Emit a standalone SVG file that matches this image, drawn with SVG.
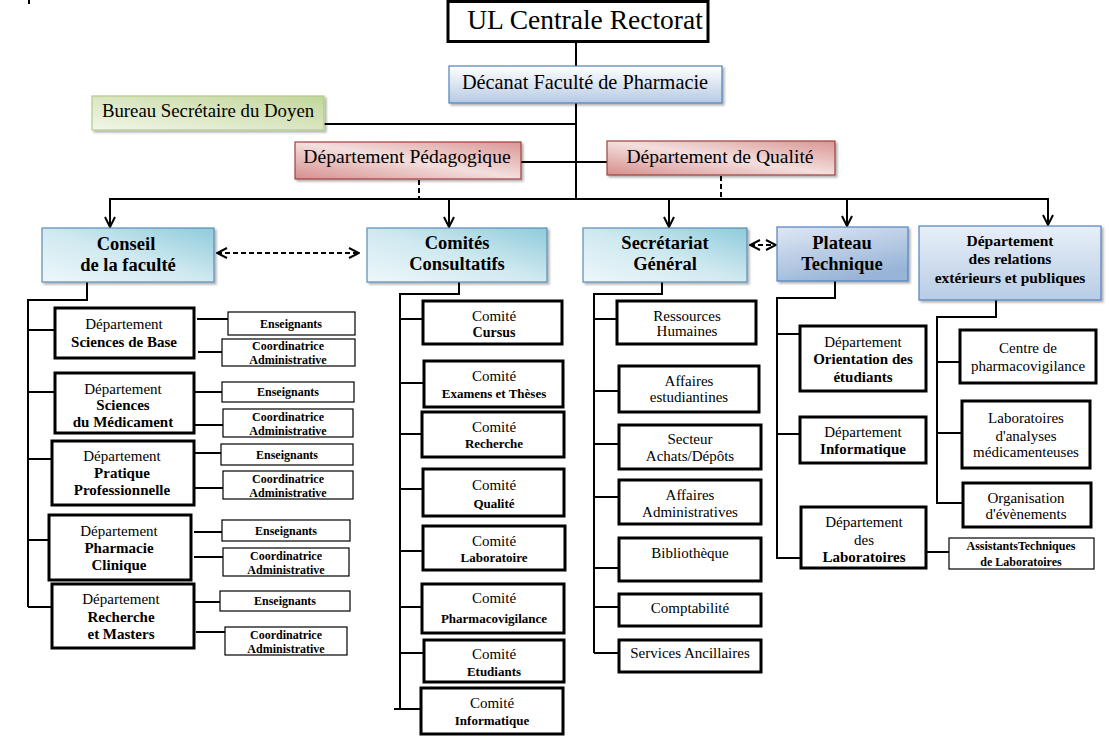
<svg xmlns="http://www.w3.org/2000/svg" width="1109" height="737" viewBox="0 0 1109 737">
<style>
.t{font-family:"Liberation Serif","Times New Roman",serif;fill:#000;text-anchor:middle}
.b{font-weight:bold}
.f15{font-size:15px}
.f13{font-size:13px}
.f12{font-size:12px}
.f18{font-size:18.5px}
.box{fill:#fff;stroke:#000;stroke-width:3}
.sbox{fill:#fff;stroke:#000;stroke-width:1.2}
.ln{stroke:#000;stroke-width:2;fill:none}
.dash{stroke-dasharray:5 3}
.hd{filter:url(#sh)}
</style>
<defs>
<filter id="sh" x="-10%" y="-10%" width="130%" height="140%"><feDropShadow dx="2" dy="2" stdDeviation="1.2" flood-color="#000" flood-opacity="0.3"/></filter>
<linearGradient id="gCyan" x1="0" y1="1" x2="1" y2="0"><stop offset="0" stop-color="#eef7fa"/><stop offset="0.5" stop-color="#cfe9f0"/><stop offset="1" stop-color="#8fcbdb"/></linearGradient>
<linearGradient id="gBlue" x1="0" y1="0" x2="0.5" y2="1"><stop offset="0" stop-color="#dfe8f3"/><stop offset="1" stop-color="#98b4d8"/></linearGradient>
<linearGradient id="gBlueL" x1="0" y1="0" x2="0" y2="1"><stop offset="0" stop-color="#e8eff8"/><stop offset="1" stop-color="#b8cce5"/></linearGradient>
<linearGradient id="gDec" x1="0" y1="0" x2="0" y2="1"><stop offset="0" stop-color="#ffffff"/><stop offset="1" stop-color="#b6cae3"/></linearGradient>
<linearGradient id="gGreen" x1="0" y1="1" x2="1" y2="0"><stop offset="0" stop-color="#f1f6e8"/><stop offset="1" stop-color="#c2d69a"/></linearGradient>
<linearGradient id="gRed" x1="0" y1="1" x2="1" y2="0"><stop offset="0" stop-color="#d58e8c"/><stop offset="0.5" stop-color="#f3dfde"/><stop offset="1" stop-color="#d99694"/></linearGradient>
<marker id="ah" viewBox="0 0 12 12" refX="11" refY="6" markerWidth="12" markerHeight="12" markerUnits="userSpaceOnUse" orient="auto-start-reverse"><path d="M1,1 L11,6 L1,11" fill="none" stroke="#000" stroke-width="2"/></marker>
</defs>
<rect width="1109" height="737" fill="#fff"/>

<g id="connectors">
<line class="ln" x1="29" y1="0" x2="29" y2="4"/>
<line class="ln" x1="576" y1="42" x2="576" y2="66"/>
<line class="ln" x1="576" y1="103" x2="576" y2="199"/>
<line class="ln" x1="324" y1="124" x2="576" y2="124"/>
<line class="ln" x1="521" y1="162" x2="576" y2="162"/>
<line class="ln" x1="576" y1="162" x2="607" y2="162"/>
<line class="ln dash" x1="419" y1="180" x2="419" y2="199"/>
<line class="ln dash" x1="721" y1="176" x2="721" y2="199"/>
<line class="ln" x1="109" y1="199" x2="1049" y2="199"/>
<line class="ln" x1="110" y1="199" x2="110" y2="227" marker-end="url(#ah)"/>
<line class="ln" x1="449" y1="199" x2="449" y2="227" marker-end="url(#ah)"/>
<line class="ln" x1="669" y1="199" x2="669" y2="227" marker-end="url(#ah)"/>
<line class="ln" x1="847" y1="199" x2="847" y2="226" marker-end="url(#ah)"/>
<line class="ln" x1="1048" y1="199" x2="1048" y2="225" marker-end="url(#ah)"/>
<line class="ln dash" x1="217" y1="253" x2="359" y2="253" marker-start="url(#ah)" marker-end="url(#ah)"/>
<line class="ln dash" x1="750" y1="245" x2="776" y2="245" marker-start="url(#ah)" marker-end="url(#ah)"/>
<path class="ln" d="M87,282 V300 H28 V607"/>
<path class="ln" d="M28,330 H55 M28,392 H55 M28,459 H52 M28,540 H49 M28,607 H52"/>
<path class="ln" d="M197,319 H228 M198,352 H222 M191,392 H222 M191,425 H223 M191,453 H221 M194,488 H223 M194,532 H222 M194,557 H223 M194,602 H220 M196,632 H225"/>
<path class="ln" d="M459,282 V294 H400 V709"/>
<path class="ln" d="M400,319 H423 M400,383 H424 M400,434 H422 M400,489 H423 M400,551 H423 M400,607 H422 M400,653 H424 M394,709 H421"/>
<path class="ln" d="M662,282 V294 H594 V653"/>
<path class="ln" d="M594,319 H617 M594,391 H619 M594,444 H619 M594,497 H619 M594,568 H619 M594,607 H619 M594,653 H619"/>
<path class="ln" d="M835,281 V298 H777 V558 H801"/>
<path class="ln" d="M777,334 H800 M777,434 H800 M926,552 H949"/>
<path class="ln" d="M996,300 V317 H937 V503 H963"/>
<path class="ln" d="M937,362 H960 M937,433 H962"/>
</g>

<g id="rectorat"><rect x="448" y="1.5" width="260" height="40" fill="#fff" stroke="#000" stroke-width="3"/><text class="t" x="585" y="29" font-size="27.5">UL Centrale Rectorat</text></g>
<g id="decanat"><rect class="hd" x="449" y="66" width="273" height="37" fill="url(#gDec)" stroke="#4f81bd" stroke-width="1.2"/><text class="t" x="585" y="89" font-size="20.3">Décanat Faculté de Pharmacie</text></g>
<g id="bureau"><rect class="hd" x="92" y="96" width="232" height="34" fill="url(#gGreen)" stroke="#b3cb8a" stroke-width="1.2"/><text class="t" x="208" y="116.5" font-size="18.8">Bureau Secrétaire du Doyen</text></g>
<g id="pedagogique"><rect class="hd" x="295" y="142" width="226" height="37" fill="url(#gRed)" stroke="#a0403e" stroke-width="1.2"/><text class="t" x="407" y="163" font-size="19.6">Département Pédagogique</text></g>
<g id="qualite"><rect class="hd" x="607" y="141" width="228" height="34" fill="url(#gRed)" stroke="#a0403e" stroke-width="1.2"/><text class="t" x="720" y="162.5" font-size="19.6">Département de Qualité</text></g>

<g id="conseil"><rect class="hd" x="42" y="228" width="172" height="54" fill="url(#gCyan)" stroke="#5a8cb5" stroke-width="1.2"/><text class="t b f18"><tspan x="126" y="250">Conseil</tspan><tspan x="128" y="271">de la faculté</tspan></text></g>
<g id="comites"><rect class="hd" x="367" y="228" width="180" height="54" fill="url(#gCyan)" stroke="#5a8cb5" stroke-width="1.2"/><text class="t b f18"><tspan x="457" y="249">Comités</tspan><tspan x="457" y="270">Consultatifs</tspan></text></g>
<g id="secretariat"><rect class="hd" x="583" y="228" width="164" height="54" fill="url(#gCyan)" stroke="#5a8cb5" stroke-width="1.2"/><text class="t b f18"><tspan x="665" y="249">Secrétariat</tspan><tspan x="665" y="270">Général</tspan></text></g>
<g id="plateau"><rect class="hd" x="777" y="227" width="131" height="54" fill="url(#gBlue)" stroke="#4f81bd" stroke-width="1.2"/><text class="t b f18"><tspan x="842" y="249">Plateau</tspan><tspan x="842" y="270">Technique</tspan></text></g>
<g id="relations"><rect class="hd" x="919" y="226" width="182" height="74" fill="url(#gBlueL)" stroke="#4f81bd" stroke-width="1.2"/><text class="t b" font-size="15.5"><tspan x="1010" y="246">Département</tspan><tspan x="1010" y="264">des relations</tspan><tspan x="1010" y="283">extérieurs et publiques</tspan></text></g>

<g id="dep-sciences-base"><rect class="box" x="55" y="308" width="139" height="50"/><text class="t f15"><tspan x="124" y="329">Département</tspan><tspan class="b" x="124" y="347">Sciences de Base</tspan></text></g>
<g id="dep-sciences-medicament"><rect class="box" x="55" y="373" width="139" height="60"/><text class="t f15"><tspan x="123" y="394">Département</tspan><tspan class="b" x="123" y="410">Sciences</tspan><tspan class="b" x="123" y="427">du Médicament</tspan></text></g>
<g id="dep-pratique"><rect class="box" x="52" y="441" width="142" height="64"/><text class="t f15"><tspan x="122" y="461">Département</tspan><tspan class="b" x="122" y="478">Pratique</tspan><tspan class="b" x="122" y="495">Professionnelle</tspan></text></g>
<g id="dep-pharmacie-clinique"><rect class="box" x="49" y="515" width="142" height="65"/><text class="t f15"><tspan x="119" y="536">Département</tspan><tspan class="b" x="119" y="553">Pharmacie</tspan><tspan class="b" x="119" y="570">Clinique</tspan></text></g>
<g id="dep-recherche"><rect class="box" x="52" y="584" width="142" height="64"/><text class="t f15"><tspan x="121" y="604">Département</tspan><tspan class="b" x="121" y="622">Recherche</tspan><tspan class="b" x="121" y="639">et Masters</tspan></text></g>

<g id="ens1"><rect class="sbox" x="228" y="312" width="127" height="23"/><text class="t b f12" x="291" y="327.5">Enseignants</text></g>
<g id="coord1"><rect class="sbox" x="222" y="339" width="133" height="27"/><text class="t b f12"><tspan x="288" y="350">Coordinatrice</tspan><tspan x="288" y="364">Administrative</tspan></text></g>
<g id="ens2"><rect class="sbox" x="222" y="382" width="132" height="20"/><text class="t b f12" x="288" y="396">Enseignants</text></g>
<g id="coord2"><rect class="sbox" x="223" y="409" width="130" height="28"/><text class="t b f12"><tspan x="288" y="421">Coordinatrice</tspan><tspan x="288" y="435">Administrative</tspan></text></g>
<g id="ens3"><rect class="sbox" x="221" y="444" width="132" height="21"/><text class="t b f12" x="287" y="459">Enseignants</text></g>
<g id="coord3"><rect class="sbox" x="223" y="471" width="130" height="28"/><text class="t b f12"><tspan x="288" y="483">Coordinatrice</tspan><tspan x="288" y="497">Administrative</tspan></text></g>
<g id="ens4"><rect class="sbox" x="222" y="520" width="128" height="21"/><text class="t b f12" x="286" y="535">Enseignants</text></g>
<g id="coord4"><rect class="sbox" x="223" y="548" width="126" height="28"/><text class="t b f12"><tspan x="286" y="560">Coordinatrice</tspan><tspan x="286" y="574">Administrative</tspan></text></g>
<g id="ens5"><rect class="sbox" x="220" y="591" width="130" height="20"/><text class="t b f12" x="285" y="605">Enseignants</text></g>
<g id="coord5"><rect class="sbox" x="225" y="627" width="122" height="28"/><text class="t b f12"><tspan x="286" y="639">Coordinatrice</tspan><tspan x="286" y="653">Administrative</tspan></text></g>

<g id="c-cursus"><rect class="box" x="423" y="301" width="139" height="43"/><text class="t"><tspan class="f15" x="494" y="321">Comité</tspan><tspan class="b" font-size="14" x="494" y="337">Cursus</tspan></text></g>
<g id="c-examens"><rect class="box" x="424" y="361" width="139" height="46"/><text class="t"><tspan class="f15" x="494" y="381">Comité</tspan><tspan class="b f13" x="494" y="397.5">Examens et Thèses</tspan></text></g>
<g id="c-recherche"><rect class="box" x="422" y="412" width="142" height="45"/><text class="t"><tspan class="f15" x="494" y="432">Comité</tspan><tspan class="b f13" x="494" y="447.5">Recherche</tspan></text></g>
<g id="c-qualite"><rect class="box" x="423" y="469" width="141" height="47"/><text class="t"><tspan class="f15" x="494" y="490">Comité</tspan><tspan class="b f13" x="494" y="507.5">Qualité</tspan></text></g>
<g id="c-laboratoire"><rect class="box" x="423" y="526" width="142" height="44"/><text class="t"><tspan class="f15" x="494" y="546">Comité</tspan><tspan class="b f13" x="494" y="561.5">Laboratoire</tspan></text></g>
<g id="c-pharmacovigilance"><rect class="box" x="422" y="584" width="142" height="49"/><text class="t"><tspan class="f15" x="494" y="603">Comité</tspan><tspan class="b f13" x="494" y="622.5">Pharmacovigilance</tspan></text></g>
<g id="c-etudiants"><rect class="box" x="424" y="640" width="140" height="42"/><text class="t"><tspan class="f15" x="494" y="659">Comité</tspan><tspan class="b f13" x="494" y="675.5">Etudiants</tspan></text></g>
<g id="c-informatique"><rect class="box" x="421" y="688" width="142" height="46"/><text class="t"><tspan class="f15" x="492" y="708">Comité</tspan><tspan class="b f13" x="492" y="724.5">Informatique</tspan></text></g>

<g id="s-rh"><rect class="box" x="617" y="301" width="139" height="43"/><text class="t f15"><tspan x="687" y="321">Ressources</tspan><tspan x="687" y="336">Humaines</tspan></text></g>
<g id="s-ae"><rect class="box" x="619" y="366" width="140" height="46"/><text class="t f15"><tspan x="689" y="386">Affaires</tspan><tspan x="689" y="402">estudiantines</tspan></text></g>
<g id="s-sa"><rect class="box" x="619" y="425" width="142" height="44"/><text class="t f15"><tspan x="690" y="444">Secteur</tspan><tspan x="690" y="461">Achats/Dépôts</tspan></text></g>
<g id="s-aa"><rect class="box" x="619" y="480" width="142" height="44"/><text class="t f15"><tspan x="690" y="500">Affaires</tspan><tspan x="690" y="517">Administratives</tspan></text></g>
<g id="s-bib"><rect class="box" x="619" y="538" width="142" height="43"/><text class="t f15" x="690" y="558">Bibliothèque</text></g>
<g id="s-compta"><rect class="box" x="619" y="594" width="142" height="32"/><text class="t f15" x="690" y="613">Comptabilité</text></g>
<g id="s-anc"><rect class="box" x="619" y="640" width="142" height="32"/><text class="t f15" x="690" y="658">Services Ancillaires</text></g>

<g id="p-orientation"><rect class="box" x="800" y="326" width="126" height="65"/><text class="t f15"><tspan x="863" y="347">Département</tspan><tspan class="b" x="863" y="364">Orientation des</tspan><tspan class="b" x="863" y="382">étudiants</tspan></text></g>
<g id="p-informatique"><rect class="box" x="800" y="417" width="126" height="46"/><text class="t f15"><tspan x="863" y="437">Département</tspan><tspan class="b" x="863" y="454">Informatique</tspan></text></g>
<g id="p-laboratoires"><rect class="box" x="801" y="507" width="125" height="61"/><text class="t f15"><tspan x="864" y="527">Département</tspan><tspan x="864" y="545">des</tspan><tspan class="b" x="864" y="562">Laboratoires</tspan></text></g>
<g id="p-assistants"><rect class="sbox" x="949" y="538" width="145" height="31"/><text class="t b f12"><tspan x="1021" y="550">AssistantsTechniques</tspan><tspan x="1021" y="566">de Laboratoires</tspan></text></g>

<g id="r-centre"><rect class="box" x="960" y="330" width="136" height="53"/><text class="t f15"><tspan x="1028" y="353">Centre de</tspan><tspan x="1028" y="371">pharmacovigilance</tspan></text></g>
<g id="r-labo"><rect class="box" x="962" y="401" width="128" height="67"/><text class="t f15"><tspan x="1026" y="423">Laboratoires</tspan><tspan x="1026" y="441">d'analyses</tspan><tspan x="1026" y="457">médicamenteuses</tspan></text></g>
<g id="r-org"><rect class="box" x="963" y="483" width="128" height="44"/><text class="t f15"><tspan x="1026" y="503">Organisation</tspan><tspan x="1026" y="519">d'évènements</tspan></text></g>
</svg>
